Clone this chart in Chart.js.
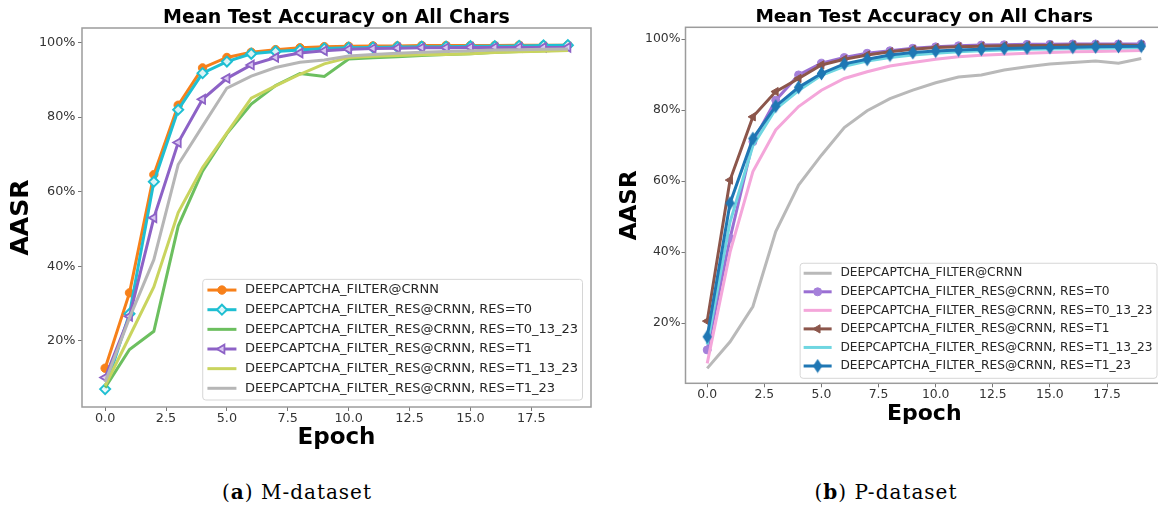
<!DOCTYPE html>
<html>
<head>
<meta charset="utf-8">
<script src="https://cdn.jsdelivr.net/npm/chart.js@4/dist/chart.umd.min.js"></script>
<style>
html,body{margin:0;padding:0;background:#fff;}
body{width:1158px;height:508px;overflow:hidden;position:relative;}
#wrap1{position:absolute;left:0;top:0;width:620px;height:470px;}
#wrap2{position:absolute;left:612px;top:0;width:570px;height:440px;}
.cap{position:absolute;font-family:"DejaVu Serif",serif;font-size:20px;line-height:24px;color:#000;white-space:nowrap;transform:translateX(-50%);letter-spacing:1px;}
</style>
</head>
<body>
<div id="wrap1"><canvas id="c1" width="620" height="470"></canvas></div>
<div id="wrap2"><canvas id="c2" width="570" height="440"></canvas></div>
<div class="cap" style="left:297px;top:480px">(<b>a</b>) M-dataset</div>
<div class="cap" style="left:886px;top:480px">(<b>b</b>) P-dataset</div>
<script>
// ---------------- data ----------------
const epochs = [0,1,2,3,4,5,6,7,8,9,10,11,12,13,14,15,16,17,18,19];
const xTickValues = [0, 2.5, 5, 7.5, 10, 12.5, 15, 17.5];
const yTickValues = [20, 40, 60, 80, 100];
const chartTitle = 'Mean Test Accuracy on All Chars';

const seriesLabels = [
  'DEEPCAPTCHA_FILTER@CRNN',
  'DEEPCAPTCHA_FILTER_RES@CRNN, RES=T0',
  'DEEPCAPTCHA_FILTER_RES@CRNN, RES=T0_13_23',
  'DEEPCAPTCHA_FILTER_RES@CRNN, RES=T1',
  'DEEPCAPTCHA_FILTER_RES@CRNN, RES=T1_13_23',
  'DEEPCAPTCHA_FILTER_RES@CRNN, RES=T1_23'
];

// (a) M-dataset
const mFilter     = [12.7,32.9,64.6,83.2,93.2,96.0,97.4,98.1,98.6,98.9,99.0,99.1,99.1,99.2,99.2,99.2,99.2,99.3,99.3,99.3];
const mT0         = [7.1,27.3,62.7,82.0,91.8,94.9,97.0,97.6,98.0,98.4,98.6,98.7,98.8,98.9,98.9,99.0,99.0,99.1,99.2,99.3];
const mT0_13_23   = [7.5,17.7,22.6,50.8,65.5,75.6,83.5,88.5,91.7,90.9,95.6,95.9,96.2,96.5,96.8,97.0,97.4,97.6,97.8,98.0];
const mT1         = [10.2,26.6,53.0,73.2,84.8,90.4,94.0,96.0,97.2,97.8,98.2,98.4,98.5,98.6,98.6,98.7,98.7,98.7,98.7,98.7];
const mT1_13_23   = [8.0,21.2,34.5,54.4,66.5,75.8,85.1,88.4,91.5,94.3,96.0,96.3,96.5,96.7,96.8,97.0,97.3,97.5,97.7,97.9];
const mT1_23      = [9.0,26.2,41.8,67.3,77.6,87.8,91.0,93.3,94.7,95.3,96.4,96.8,97.1,97.4,97.6,97.8,98.0,98.1,98.2,98.3];

// (b) P-dataset
const pFilter     = [7.3,14.8,24.7,45.8,58.9,67.3,75.1,79.8,83.2,85.6,87.7,89.3,89.9,91.3,92.2,93.0,93.4,93.8,93.2,94.5];
const pT0         = [12.5,43.9,71.1,82.8,89.9,93.2,94.8,96.0,96.7,97.4,97.8,98.1,98.3,98.4,98.5,98.5,98.6,98.6,98.6,98.6];
const pT0_13_23   = [8.7,40.0,62.7,74.4,81.0,85.6,88.9,90.8,92.4,93.4,94.3,95.0,95.4,95.7,96.0,96.2,96.4,96.5,96.6,96.8];
const pT1         = [20.6,60.3,78.1,85.2,88.9,92.7,94.3,95.5,96.4,97.1,97.6,97.8,98.0,98.1,98.2,98.2,98.3,98.3,98.3,98.2];
const pT1_13_23   = [14.0,48.5,70.0,80.3,85.5,89.8,92.3,93.8,94.8,95.5,96.0,96.4,96.7,96.9,97.1,97.2,97.3,97.4,97.5,97.6];
const pT1_23      = [16.2,53.8,72.0,81.1,86.4,90.3,93.0,94.3,95.5,96.2,96.6,96.9,97.1,97.3,97.5,97.6,97.7,97.8,97.9,98.0];

// ---------------- helpers ----------------
const FONT = '"DejaVu Sans", "Noto Sans", sans-serif';
const pts = vals => epochs.map((e, i) => ({x: e, y: vals[i]}));

function thinDiamond(color) {
  const c = document.createElement('canvas');
  c.width = 11; c.height = 15;
  const g = c.getContext('2d');
  g.beginPath();
  g.moveTo(5.5, 0.5); g.lineTo(10.2, 7.5); g.lineTo(5.5, 14.5); g.lineTo(0.8, 7.5); g.closePath();
  g.fillStyle = color; g.fill();
  return c;
}

function series(label, vals, color, n, i, marker) {
  const d = {
    label, data: pts(vals), borderColor: color, backgroundColor: color,
    borderWidth: 3, tension: 0, fill: false, order: n - i,
    pointRadius: 0, pointHoverRadius: 0, pointStyle: false
  };
  if (marker) Object.assign(d, marker);
  return d;
}

const framePlugin = {
  id: 'frame',
  afterDatasetsDraw(chart, args, o) {
    const {ctx, chartArea: ca} = chart;
    ctx.save();
    ctx.strokeStyle = o.color; ctx.lineWidth = o.width;
    ctx.strokeRect(ca.left, ca.top, ca.right - ca.left, ca.bottom - ca.top);
    ctx.restore();
  }
};

function drawMarker(ctx, d, x, y) {
  const st = d.pointStyle;
  if (!st) return;
  ctx.save();
  ctx.fillStyle = d.pointBackgroundColor;
  ctx.strokeStyle = d.pointBorderColor;
  ctx.lineWidth = d.pointBorderWidth;
  if (Chart.helpers && Chart.helpers.drawPoint) {
    Chart.helpers.drawPoint(ctx, {pointStyle: st, rotation: d.pointRotation || 0, radius: d.pointRadius, borderWidth: d.pointBorderWidth}, x, y);
  } else if (st instanceof HTMLCanvasElement) {
    ctx.drawImage(st, x - st.width / 2, y - st.height / 2);
  }
  ctx.restore();
}

const legendPlugin = {
  id: 'mplLegend',
  afterDraw(chart, args, o) {
    const {ctx, chartArea: ca} = chart;
    const ds = chart.data.datasets;
    ctx.save();
    ctx.font = o.fontSize + 'px ' + FONT;
    let maxW = 0;
    ds.forEach(d => { maxW = Math.max(maxW, ctx.measureText(d.label).width); });
    const w = o.textX + maxW + o.padRight;
    const h = o.padTop + (ds.length - 1) * o.rowH + o.padBottom;
    const x0 = ca.right - o.marginRight - w;
    const y0 = ca.bottom - o.marginBottom - h;
    ctx.beginPath();
    if (ctx.roundRect) ctx.roundRect(x0, y0, w, h, 3); else ctx.rect(x0, y0, w, h);
    ctx.fillStyle = 'rgba(255,255,255,0.85)'; ctx.fill();
    ctx.strokeStyle = '#d6d6d6'; ctx.lineWidth = 1; ctx.stroke();
    ds.forEach((d, i) => {
      const y = y0 + o.padTop + i * o.rowH;
      const hx = x0 + o.handleX;
      ctx.beginPath(); ctx.moveTo(hx, y); ctx.lineTo(hx + o.handleLen, y);
      ctx.strokeStyle = d.borderColor; ctx.lineWidth = d.borderWidth; ctx.lineCap = 'butt'; ctx.stroke();
      drawMarker(ctx, d, hx + o.handleLen / 2, y);
      ctx.fillStyle = o.color; ctx.textBaseline = 'middle'; ctx.textAlign = 'left';
      ctx.font = o.fontSize + 'px ' + FONT;
      ctx.fillText(d.label, x0 + o.textX, y);
    });
    ctx.restore();
  }
};

function makeConfig(datasets, c) {
  return {
    type: 'line',
    data: {datasets},
    plugins: [framePlugin, legendPlugin],
    options: {
      responsive: false, animation: false, devicePixelRatio: 1,
      layout: {padding: {left: 0, right: c.padRight, top: 0, bottom: 0}},
      plugins: {
        legend: {display: false}, tooltip: {enabled: false},
        title: {display: true, text: chartTitle, fullSize: false, align: 'center', color: '#000',
                font: {family: FONT, size: c.titleSize, weight: 'bold', lineHeight: 1},
                padding: {top: c.titlePadTop, bottom: c.titlePadBottom}},
        frame: {color: '#9c9c9c', width: 1.5},
        mplLegend: c.legend
      },
      scales: {
        x: {
          type: 'linear', min: -0.95, max: 19.95,
          afterBuildTicks: s => { s.ticks = xTickValues.map(v => ({value: v})); },
          afterFit: s => { s.height = c.xAxisH; },
          ticks: {callback: v => Number(v).toFixed(1), color: '#333', padding: 0, autoSkip: false, maxRotation: 0,
                  font: {family: FONT, size: c.tickSize}},
          grid: {drawOnChartArea: false, drawTicks: true, tickLength: 4, color: '#777'},
          border: {display: false},
          title: {display: true, text: 'Epoch', color: '#000',
                  font: {family: FONT, size: c.xTitleSize, weight: 'bold', lineHeight: 1},
                  padding: {top: 0, bottom: c.xTitlePadBottom}}
        },
        y: {
          type: 'linear', min: c.yMin, max: c.yMax,
          afterBuildTicks: s => { s.ticks = yTickValues.map(v => ({value: v})); },
          afterFit: s => { s.width = c.yAxisW; },
          ticks: {callback: v => v + '%', color: '#333', padding: c.yTickPad,
                  font: {family: FONT, size: c.tickSize}},
          grid: {drawOnChartArea: false, drawTicks: true, tickLength: 4, color: '#777'},
          border: {display: false},
          title: {display: true, text: 'AASR', color: '#000',
                  font: {family: FONT, size: c.yTitleSize, weight: 'bold', lineHeight: 1},
                  padding: {top: c.yTitlePadTop, bottom: 0}}
        }
      }
    }
  };
}

// ---------------- chart (a) ----------------
const mSeries = [mFilter, mT0, mT0_13_23, mT1, mT1_13_23, mT1_23];
const mColors = ['#f7801a', '#1fbfd2', '#6cbf5f', '#8d62c6', '#c9d45e', '#b6b6b6'];
const mMarkers = [
  {pointStyle: 'circle', pointRadius: 4.2, pointBorderWidth: 1, pointBackgroundColor: '#f7801a', pointBorderColor: '#f7801a'},
  {pointStyle: 'rectRot', pointRadius: 5, pointBorderWidth: 2, pointBackgroundColor: 'rgba(235,250,252,0.9)', pointBorderColor: '#1fbfd2'},
  null,
  {pointStyle: 'triangle', pointRotation: -90, pointRadius: 5, pointBorderWidth: 1.8, pointBackgroundColor: 'rgba(225,210,245,0.9)', pointBorderColor: '#8d62c6'},
  null, null
];
const mDatasets = mSeries.map((v, i) => series(seriesLabels[i], v, mColors[i], mSeries.length, i, mMarkers[i]));

new Chart(document.getElementById('c1'), makeConfig(mDatasets, {
  padRight: 29, titleSize: 19, titlePadTop: 8.5, titlePadBottom: 0.5,
  xAxisH: 63, yAxisW: 82, tickSize: 12.8, yTickPad: 2.5,
  xTitleSize: 23, xTitlePadBottom: 20, yTitleSize: 25, yTitlePadTop: 9.3,
  yMin: 2.3, yMax: 103.9,
  legend: {fontSize: 13, rowH: 19.65, padTop: 10.7, padBottom: 11.7, handleX: 4.7, handleLen: 29,
           textX: 42.3, padRight: 4.5, marginRight: 8.5, marginBottom: 7, color: '#262626'}
}));

// ---------------- chart (b) ----------------
const pSeries = [pFilter, pT0, pT0_13_23, pT1, pT1_13_23, pT1_23];
const pColors = ['#b9b9b9', '#9a6fd3', '#f4a6da', '#8c564b', '#6fd6e1', '#1f77b4'];
const pMarkers = [
  null,
  {pointStyle: 'circle', pointRadius: 4, pointBorderWidth: 1, pointBackgroundColor: '#a580da', pointBorderColor: '#a580da'},
  null,
  {pointStyle: 'triangle', pointRotation: -90, pointRadius: 4.8, pointBorderWidth: 1, pointBackgroundColor: '#8c564b', pointBorderColor: '#8c564b'},
  null,
  {pointStyle: thinDiamond('#1f77b4'), pointRadius: 5, pointBorderWidth: 1, pointBackgroundColor: '#1f77b4', pointBorderColor: '#1f77b4'}
];
const pDatasets = pSeries.map((v, i) => series(seriesLabels[i], v, pColors[i], pSeries.length, i, pMarkers[i]));

new Chart(document.getElementById('c2'), makeConfig(pDatasets, {
  padRight: 19, titleSize: 18.5, titlePadTop: 8, titlePadBottom: 0.8,
  xAxisH: 56.7, yAxisW: 73.5, tickSize: 12.4, yTickPad: 1,
  xTitleSize: 22, xTitlePadBottom: 15, yTitleSize: 23, yTitlePadTop: 6.5,
  yMin: 3.1, yMax: 103.3,
  legend: {fontSize: 12.2, rowH: 18.55, padTop: 10, padBottom: 12.3, handleX: 3.5, handleLen: 28,
           textX: 40.3, padRight: 4.4, marginRight: 6, marginBottom: 5, color: '#262626'}
}));
</script>
</body>
</html>
